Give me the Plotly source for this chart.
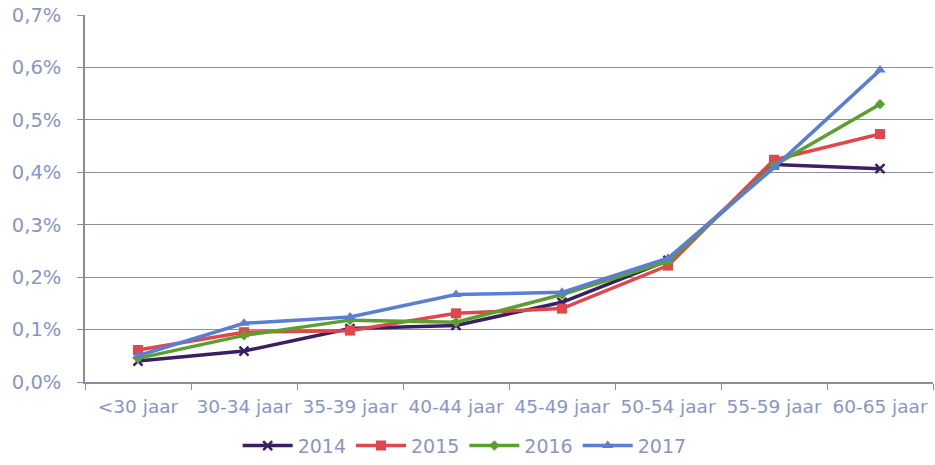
import plotly.graph_objects as go

categories = ["<30 jaar", "30-34 jaar", "35-39 jaar", "40-44 jaar", "45-49 jaar", "50-54 jaar", "55-59 jaar", "60-65 jaar"]
s2014 = [0.040, 0.059, 0.102, 0.108, 0.152, 0.232, 0.415, 0.407]
s2015 = [0.061, 0.095, 0.098, 0.131, 0.140, 0.222, 0.424, 0.473]
s2016 = [0.045, 0.089, 0.118, 0.114, 0.167, 0.230, 0.413, 0.530]
s2017 = [0.050, 0.112, 0.124, 0.167, 0.171, 0.236, 0.409, 0.595]
y_ticks = [0.0, 0.1, 0.2, 0.3, 0.4, 0.5, 0.6, 0.7]
y_ticktext = ["0,0%", "0,1%", "0,2%", "0,3%", "0,4%", "0,5%", "0,6%", "0,7%"]

series = [
    ("2014", s2014, "#3a1f62", "x-thin", 9),
    ("2015", s2015, "#e0474c", "square", 10),
    ("2016", s2016, "#5aa02c", "diamond", 8),
    ("2017", s2017, "#5a7fd2", "triangle-up", 10),
]

fig = go.Figure()
for name, vals, color, sym, size in series:
    fig.add_trace(go.Scatter(
        x=categories, y=vals, name=name, mode="lines+markers",
        line=dict(color=color, width=3.5),
        marker=dict(symbol=sym, size=size, color=color,
                    line=dict(color=color, width=2.5 if sym == "x-thin" else 0)),
    ))

fig.update_layout(
    width=935, height=465,
    margin=dict(l=85, r=2, t=15, b=82),
    paper_bgcolor="white", plot_bgcolor="white",
    font=dict(family="DejaVu Sans", size=17, color="#8a95c6"),
    showlegend=True,
    legend=dict(orientation="h", x=0.18, xanchor="left",
                y=-0.222, yanchor="bottom",
                font=dict(size=19, color="#8a95c6"), itemwidth=50, tracegroupgap=0),
    xaxis=dict(type="category", range=[-0.5, 7.5], showgrid=False, automargin=False,
               showline=True, linecolor="#8c8c9c", linewidth=1.5,
               ticks="outside", tickson="boundaries", ticklen=6, tickcolor="#8c8c9c",
               ticklabelstandoff=7, tickangle=0, ticklabeloverflow="allow",
               tickfont=dict(size=18.5, color="#8a95c6")),
    yaxis=dict(range=[0, 0.7001], tickvals=y_ticks, ticktext=y_ticktext, automargin=False,
               showgrid=True, gridcolor="#8c8c9c", gridwidth=1.2,
               showline=True, linecolor="#8c8c9c", linewidth=1.5,
               ticks="outside", ticklen=6, tickcolor="#8c8c9c",
               ticklabelstandoff=12, ticklabeloverflow="allow",
               zeroline=False, tickfont=dict(size=19.5, color="#8a95c6")),
)

fig.write_html("out.html", config={"displayModeBar": False},
               post_script="document.body.style.margin='0';document.body.style.overflow='hidden';")
